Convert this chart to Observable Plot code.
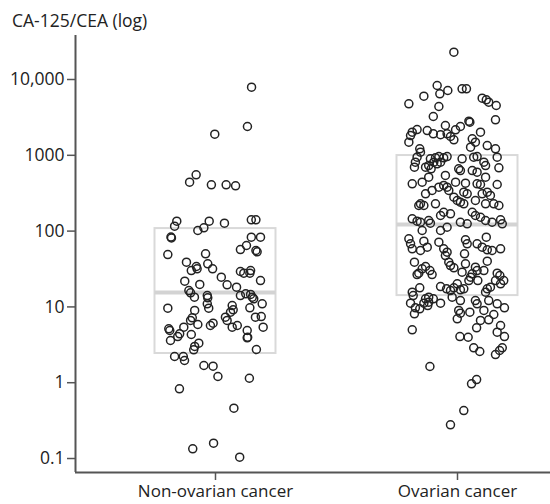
<!DOCTYPE html>
<html>
<head>
<meta charset="utf-8">
<script src="https://cdn.jsdelivr.net/npm/d3@7"></script>
<script src="https://cdn.jsdelivr.net/npm/@observablehq/plot@0.6"></script>
<style>
  html, body { margin: 0; padding: 0; background: #fff; }
  #title { height: 28px; box-sizing: border-box; padding: 12px 0 0 12px; font: 17.5px "Open Sans", sans-serif; line-height: 1; color: #222; }
</style>
</head>
<body>
<div id="title"></div>
<div id="chart"></div>
<script>
const yTitle = "CA-125/CEA (log)";
const categories = ["Non-ovarian cancer", "Ovarian cancer"];
const yTicks = [0.1, 1, 10, 100, 1000, 10000];
const yTickLabels = ["0.1", "1", "10", "100", "1000", "10,000"];

// box summaries (Q1, median, Q3) per category
const boxQ1 = [2.43, 14.1];
const boxMedian = [15.5, 122];
const boxQ3 = [108, 993];

// [horizontal jitter (category units), log10(CA-125/CEA)]
const nonOvarianPoints = [
  [0.149,3.898],[0.132,3.380],[-0.003,3.278],[-0.080,2.743],[-0.107,2.645],[-0.017,2.611],[0.044,2.611],[0.083,2.598],
  [-0.160,2.131],[-0.169,2.065],[-0.026,2.131],[-0.048,2.044],[0.037,2.104],[0.148,2.149],[0.167,2.149],[-0.073,2.008],
  [-0.184,1.922],[-0.182,1.909],[0.148,1.920],[0.186,1.920],[0.128,1.810],[0.103,1.757],[0.167,1.744],[0.172,1.727],
  [-0.197,1.691],[-0.041,1.701],[-0.120,1.590],[-0.032,1.569],[-0.100,1.480],[-0.079,1.533],[-0.076,1.503],[-0.012,1.503],
  [0.103,1.467],[0.117,1.445],[0.145,1.480],[0.142,1.445],[0.024,1.392],[0.186,1.348],[-0.127,1.339],[-0.065,1.296],
  [0.048,1.292],[0.087,1.260],[-0.110,1.216],[-0.103,1.186],[-0.087,1.128],[-0.034,1.150],[-0.032,1.120],[0.103,1.150],
  [0.125,1.173],[0.145,1.164],[0.152,1.128],[0.158,1.107],[0.193,1.041],[-0.197,0.983],[-0.034,1.041],[-0.028,0.983],
  [0.069,1.018],[0.073,0.962],[0.062,0.930],[-0.086,0.953],[0.142,0.988],[-0.096,0.856],[-0.103,0.821],[0.041,0.864],
  [0.048,0.821],[0.165,0.864],[0.189,0.873],[-0.193,0.711],[-0.189,0.689],[-0.131,0.732],[-0.148,0.645],[-0.156,0.609],
  [-0.073,0.768],[-0.021,0.755],[-0.010,0.785],[0.069,0.732],[0.090,0.755],[0.197,0.732],[0.131,0.689],[0.133,0.600],
  [0.131,0.592],[-0.100,0.636],[-0.186,0.557],[-0.069,0.521],[-0.086,0.478],[-0.090,0.434],[0.169,0.438],[-0.169,0.346],
  [-0.133,0.346],[-0.128,0.293],[-0.048,0.227],[-0.010,0.218],[0.010,0.082],[0.140,0.059],[-0.149,-0.080],[0.076,-0.336],
  [-0.094,-0.872],[-0.008,-0.798],[0.100,-0.983]
];

const ovarianPoints = [
  [-0.015,4.360],[-0.084,3.921],[-0.040,3.855],[-0.073,3.811],[0.019,3.877],[0.037,3.877],[-0.139,3.780],[-0.201,3.679],
  [0.102,3.753],[0.119,3.732],[0.129,3.701],[0.160,3.657],[-0.077,3.644],[-0.100,3.512],[0.157,3.468],[0.047,3.450],
  [0.051,3.437],[0.012,3.380],[-0.050,3.393],[-0.167,3.340],[-0.187,3.305],[-0.194,3.261],[-0.201,3.173],[-0.125,3.327],
  [-0.100,3.284],[-0.070,3.271],[-0.043,3.284],[-0.029,3.248],[-0.015,3.204],[-0.008,3.336],[0.095,3.305],[0.061,3.218],
  [0.074,3.173],[0.054,3.107],[0.123,3.129],[0.157,3.086],[0.164,2.975],[-0.156,3.086],[-0.153,3.041],[-0.167,2.975],
  [-0.174,2.909],[-0.178,2.843],[-0.112,2.954],[-0.091,2.967],[-0.077,2.984],[-0.098,2.909],[-0.084,2.888],[-0.070,2.909],
  [-0.119,2.865],[-0.132,2.843],[-0.109,2.822],[-0.043,2.984],[-0.057,2.967],[0.019,2.954],[0.067,2.975],[0.081,2.984],
  [0.109,2.909],[0.116,2.865],[0.171,2.835],[0.005,2.822],[0.012,2.799],[0.061,2.799],[0.081,2.777],[-0.050,2.734],
  [-0.119,2.711],[-0.146,2.645],[-0.187,2.624],[0.116,2.711],[-0.008,2.645],[0.033,2.632],[0.081,2.624],[0.095,2.615],
  [0.164,2.615],[-0.077,2.579],[-0.057,2.602],[-0.043,2.579],[-0.036,2.536],[-0.132,2.492],[-0.105,2.536],[0.040,2.492],
  [0.026,2.513],[0.102,2.492],[0.123,2.513],[0.136,2.470],[-0.015,2.447],[0.074,2.404],[-0.001,2.404],[0.012,2.381],
  [0.026,2.360],[-0.153,2.360],[-0.139,2.338],[-0.160,2.338],[-0.091,2.360],[0.116,2.360],[0.150,2.360],[0.171,2.338],
  [-0.057,2.249],[-0.029,2.228],[-0.070,2.206],[-0.187,2.162],[-0.167,2.131],[-0.153,2.117],[-0.119,2.140],[-0.112,2.104],
  [0.012,2.117],[0.040,2.096],[0.061,2.249],[0.074,2.206],[0.095,2.183],[0.116,2.140],[0.143,2.117],[0.178,2.149],
  [0.185,2.096],[-0.146,2.008],[-0.043,2.051],[-0.070,2.008],[-0.201,1.898],[-0.194,1.832],[-0.187,1.766],[-0.139,1.867],
  [-0.125,1.788],[-0.153,1.744],[-0.077,1.854],[-0.057,1.766],[-0.043,1.722],[0.033,1.885],[0.040,1.832],[0.081,1.832],
  [0.102,1.788],[0.123,1.753],[0.143,1.744],[0.119,1.920],[0.178,1.766],[-0.178,1.590],[-0.146,1.503],[-0.132,1.533],
  [-0.114,1.480],[-0.105,1.427],[-0.160,1.445],[-0.167,1.427],[-0.050,1.678],[-0.036,1.590],[-0.029,1.546],[-0.015,1.516],
  [0.033,1.569],[0.029,1.701],[0.074,1.524],[0.081,1.480],[0.123,1.603],[0.109,1.480],[0.019,1.458],[0.054,1.392],
  [0.061,1.437],[0.047,1.348],[0.164,1.445],[0.175,1.414],[0.157,1.348],[0.191,1.348],[0.178,1.305],[0.084,1.348],
  [-0.001,1.305],[-0.015,1.252],[-0.070,1.269],[-0.045,1.239],[-0.029,1.216],[0.012,1.226],[0.026,1.239],[0.123,1.239],
  [0.116,1.194],[0.136,1.260],[-0.156,1.252],[-0.187,1.194],[-0.183,1.150],[-0.022,1.128],[0.012,1.084],[-0.119,1.128],
  [-0.132,1.107],[-0.100,1.107],[-0.139,1.049],[-0.070,1.049],[-0.194,1.049],[-0.174,0.988],[-0.156,0.975],[-0.178,0.909],
  [-0.123,1.018],[-0.119,1.062],[0.074,1.084],[0.081,1.041],[0.129,1.084],[0.164,1.041],[0.194,0.988],[0.109,0.953],
  [0.150,0.900],[0.005,0.953],[0.012,0.917],[-0.001,0.843],[0.051,0.930],[0.095,0.821],[0.129,0.830],[0.178,0.755],
  [0.164,0.666],[0.194,0.609],[0.079,0.724],[-0.187,0.698],[0.010,0.609],[0.044,0.600],[0.067,0.460],[0.092,0.412],
  [0.185,0.460],[0.174,0.425],[0.157,0.372],[-0.114,0.214],[0.079,0.042],[0.058,-0.015],[0.026,-0.367],[-0.029,-0.555]
];

const points = [
  ...nonOvarianPoints.map(([j, l]) => ({cat: 0, jitter: j, value: Math.pow(10, l)})),
  ...ovarianPoints.map(([j, l]) => ({cat: 1, jitter: j, value: Math.pow(10, l)}))
];
const boxes = categories.map((c, i) => ({i, q1: boxQ1[i], med: boxMedian[i], q3: boxQ3[i]}));

const xDomain = [-0.5785, 1.3843];
const yDomain = [0.0654, 38060];
const halfBox = 0.25;

document.getElementById("title").textContent = yTitle;

const chart = Plot.plot({
  width: 550,
  height: 476,
  marginTop: 7,
  marginLeft: 75,
  marginRight: 0,
  marginBottom: 32,
  style: {fontFamily: "'Open Sans', sans-serif", fontSize: "17.5px", color: "#222", background: "#fff"},
  x: {type: "linear", domain: xDomain},
  y: {type: "log", domain: yDomain},
  marks: [
    Plot.rect(boxes, {x1: d => d.i - halfBox, x2: d => d.i + halfBox, y1: "q1", y2: "q3", fill: "white", stroke: "#d9d9d9", strokeWidth: 2}),
    Plot.ruleY(boxes, {x1: d => d.i - halfBox, x2: d => d.i + halfBox, y: "med", stroke: "#d3d3d3", strokeWidth: 4}),
    Plot.dot(points, {x: d => d.cat + d.jitter, y: "value", r: 4, fill: "none", stroke: "#222", strokeWidth: 1.5}),
    Plot.axisY({ticks: yTicks, tickFormat: d => yTickLabels[yTicks.indexOf(d)], tickSize: 8, tickPadding: 3, label: null, stroke: "#555", strokeWidth: 1.5}),
    Plot.axisX({ticks: [0, 1], tickFormat: i => categories[i], tickSize: 8, tickPadding: 4, fontSize: 17, label: null, stroke: "#555", strokeWidth: 1.5}),
    Plot.ruleX([xDomain[0]], {stroke: "#555", strokeWidth: 2}),
    Plot.ruleY([yDomain[0]], {stroke: "#555", strokeWidth: 2})
  ]
});
document.getElementById("chart").appendChild(chart);
</script>
</body>
</html>
